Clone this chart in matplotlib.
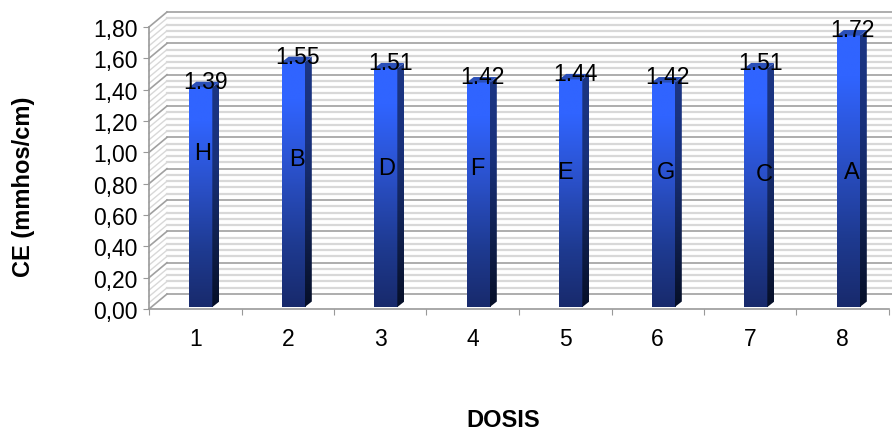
import matplotlib
matplotlib.use('Agg')
import matplotlib.pyplot as plt
import numpy as np
from matplotlib.patches import Polygon
from matplotlib.transforms import Affine2D
from matplotlib.colors import LinearSegmentedColormap

dosis = ['1', '2', '3', '4', '5', '6', '7', '8']
ce = [1.39, 1.55, 1.51, 1.42, 1.44, 1.42, 1.51, 1.72]
letras = ['H', 'B', 'D', 'F', 'E', 'G', 'C', 'A']
letras_x = [0.584, 1.6, 2.573, 3.546, 4.497, 5.589, 6.649, 7.6]
letras_y = [0.998, 0.957, 0.897, 0.897, 0.872, 0.872, 0.86, 0.877]
y_ticks = [0.0, 0.2, 0.4, 0.6, 0.8, 1.0, 1.2, 1.4, 1.6, 1.8]

W, H = 892, 431
plt.rcParams['font.family'] = ['Liberation Sans', 'DejaVu Sans']

fig = plt.figure(figsize=(W / 100, H / 100), dpi=100)
ax = fig.add_axes([149 / W, 1 - 310 / H, 740 / W, 282 / H])
ax.set_xlim(0, 8)
ax.set_ylim(0, 1.8)
ax.patch.set_alpha(0)


def shifted(dx, dy):
    return ax.transData + Affine2D().translate(dx, dy)


WALL_DX, WALL_DY = 18, 15
BAR_DX, BAR_DY = 5.5, 4
SIDE_DX, SIDE_DY = 7, 5.5
BAR_W = 0.25

# back wall and left wall lines
wall = shifted(WALL_DX, WALL_DY)
for i, v in enumerate(np.arange(0, 1.8001, 0.04)):
    major = i % 5 == 0
    color = '#a0a0a0' if major else '#d8d8d8'
    lw = 1.2 if major else 1.6
    z = 1.2 if major else 1.1
    ax.plot([0, 8.3], [v, v], transform=wall, color=color, lw=lw, zorder=z, clip_on=False)
    p0 = ax.transData.transform((0, v))
    ax.plot([p0[0], p0[0] + WALL_DX], [p0[1], p0[1] + WALL_DY], transform=None,
            color=color, lw=1.2 if major else 1.0, zorder=z, clip_on=False)

front_cmap = LinearSegmentedColormap.from_list(
    'front', [(0, '#182a6c'), (0.25, '#1e3a90'), (0.55, '#2a50c8'), (0.85, '#3064ff'), (1, '#3064ff')])
side_cmap = LinearSegmentedColormap.from_list(
    'side', [(0, '#060f28'), (0.3, '#10204e'), (0.65, '#18307a'), (1, '#1c3684')])
grad = np.linspace(1, 0, 128).reshape(-1, 1)

bar_tr = shifted(BAR_DX, BAR_DY)
base = -0.013
for i, v in enumerate(ce):
    x0 = i + 0.5 - BAR_W / 2
    x1 = i + 0.5 + BAR_W / 2
    # front
    ax.imshow(grad, cmap=front_cmap, extent=[x0, x1, base, v], aspect='auto',
              transform=bar_tr, zorder=3, clip_on=False, interpolation='bilinear')
    # side face
    a = bar_tr.transform([(x1, base), (x1, v)])
    side = np.array([a[0], a[0] + [SIDE_DX, SIDE_DY], a[1] + [SIDE_DX, SIDE_DY], a[1]])
    xmin, ymin = side.min(axis=0)
    xmax, ymax = side.max(axis=0)
    im2 = ax.imshow(grad, cmap=side_cmap, extent=[xmin, xmax, ymin, ymax], aspect='auto',
                    transform=Affine2D(), zorder=3, interpolation='bilinear')
    clip = Polygon(side, closed=True, transform=None, fc='none', ec='none')
    ax.add_patch(clip)
    im2.set_clip_path(clip)
    # top face
    b = bar_tr.transform([(x0, v), (x1, v)])
    top = [b[0], b[1], b[1] + [SIDE_DX, SIDE_DY], b[0] + [SIDE_DX, SIDE_DY]]
    ax.add_patch(Polygon(top, closed=True, transform=None, fc='#2a4fb8', ec='none', zorder=3, clip_on=False))
    # labels
    ax.text(i + 0.5, v, f'{v:.2f}', transform=shifted(10, 10), ha='center', va='center',
            fontsize=16.5, color='black', zorder=5, clip_on=False)
    ax.text(letras_x[i], letras_y[i], letras[i], ha='center', va='center',
            fontsize=17, color='black', zorder=5)

ax.set_xlim(0, 8)
ax.set_ylim(0, 1.8)

for s in ['top', 'right']:
    ax.spines[s].set_visible(False)
for s in ['left', 'bottom']:
    ax.spines[s].set_color('#999999')
    ax.spines[s].set_linewidth(1.2)
    ax.spines[s].set_zorder(2)

ax.set_yticks(y_ticks)
ax.set_yticklabels([f'{v:.2f}'.replace('.', ',') for v in y_ticks], fontsize=16.5)
ax.set_xticks(np.arange(0, 9))
ax.set_xticklabels([])
ax.set_xticks(np.arange(8) + 0.5, minor=True)
ax.set_xticklabels(dosis, minor=True, fontsize=16.5)
ax.tick_params(axis='x', which='major', length=4, color='#999999')
ax.tick_params(axis='x', which='minor', length=0, pad=13, labelcolor='black')
ax.tick_params(axis='y', length=4.5, color='#999999', pad=3.5)

fig.text(503 / W, 1 - 421 / H, 'DOSIS', ha='center', va='center', fontsize=17, fontweight='bold')
fig.text(24 / W, 1 - 187 / H, 'CE (mmhos/cm)', ha='center', va='center', rotation=90,
         fontsize=17, fontweight='bold')

fig.savefig('out.png', dpi=100)
